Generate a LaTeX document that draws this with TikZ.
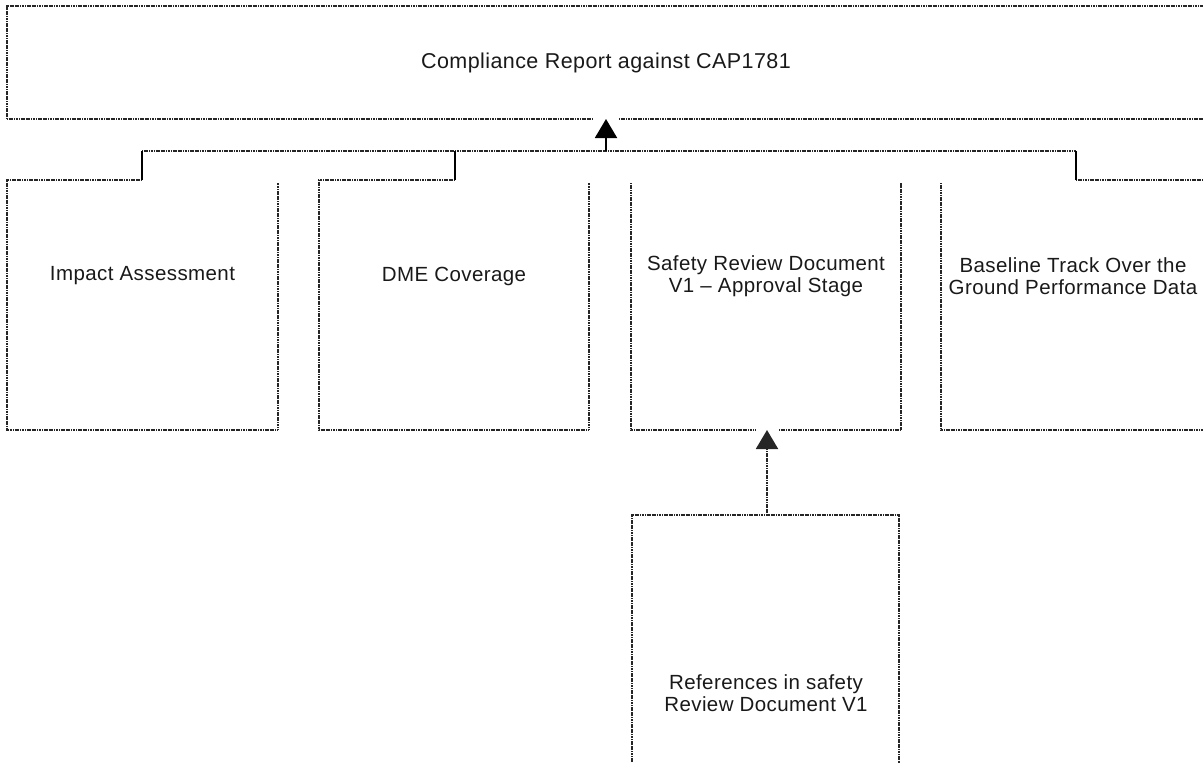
\documentclass[tikz,border=0pt]{standalone}
\usepackage{fontspec}
\setmainfont[LetterSpace=2]{Liberation Sans}
\usetikzlibrary{arrows.meta}
\begin{document}
\begin{tikzpicture}[x=1pt,y=-1pt,
  frame/.style={draw=none, inner sep=0pt, outer sep=0pt, minimum width=#1},
  outline/.style={draw=black!85, line width=2pt, dash pattern=on 1.2pt off 0.5pt},
  link/.style={draw=black, line width=2pt},
  tip/.style={-{Triangle[width=22pt,length=19pt]}},
  label/.style={font=\fontsize{20.5}{21.5}\selectfont, text=black!90, align=center, inner sep=0pt}]
\useasboundingbox (0,0) rectangle (1203,763);

% frames (outlines are drawn separately below)
\node[frame=1198pt, minimum height=113pt] (top) at (606,62.5) {};
\node[frame=271pt, minimum height=250pt] (imp) at (142.5,305) {};
\node[frame=270pt, minimum height=250pt] (dme) at (454,305) {};
\node[frame=270pt, minimum height=250pt] (srd) at (766,305) {};
\node[frame=264pt, minimum height=250pt] (base) at (1073,305) {};
\node[frame=267pt, minimum height=356pt] (refs) at (765.5,693) {};

% texts
\node[label, font=\fontsize{21.5}{22}\selectfont] (topT) at (606,63) {Compliance Report against CAP1781};
\node[label] (impT) at (142.5,276) {Impact Assessment};
\node[label] (dmeT) at (454,276) {DME Coverage};
\node[label] (srdT) at (766,276) {Safety Review Document\\V1 -- Approval Stage};
\node[label] (baseT) at (1073,276) {Baseline Track Over the\\Ground Performance Data};
\node[label] (refsT) at (766,693) {References in safety\\Review Document V1};

% feet of the connectors and the arrow entries
\coordinate (impF) at (142,180);
\coordinate (dmeF) at (455,180);
\coordinate (baseF) at (1076,180);
\coordinate (hub) at (606,151);
\coordinate (topIn) at (606,119);
\coordinate (srdIn) at (767,430);

% outlines
\draw[outline] (top.south west) -- (top.north west) -- (top.north east);
\draw[outline] (top.south west) -- (593,119);
\draw[outline] (619,119) -- (top.south east);
\draw[outline] (impF) -- (imp.north west) -- (imp.south west) -- (imp.south east) -- ([yshift=-3pt]imp.north east);
\draw[outline] (dmeF) -- (dme.north west) -- (dme.south west) -- (dme.south east) -- ([yshift=-3pt]dme.north east);
\draw[outline] ([yshift=-3pt]srd.north west) -- (srd.south west) -- (755,430);
\draw[outline] (779,430) -- (srd.south east) -- ([yshift=-3pt]srd.north east);
\draw[outline] (baseF) -- (base.north east);
\draw[outline] (baseF -| base.west) ++(0,3) -- (base.south west) -- (base.south east);
\draw[outline] (refs.south west) -- (refs.north west) -- (refs.north east) -- (refs.south east);

% bus
\draw[outline] (impF |- hub) -- (baseF |- hub);

% connectors
\draw[link] (impF) -- (impF |- hub);
\draw[link] (dmeF) -- (dmeF |- hub);
\draw[link] (baseF) -- (baseF |- hub);
\draw[link, tip] (hub) -- (topIn);
\draw[outline, tip] (refs.north -| srdIn) -- (srdIn);
\end{tikzpicture}
\end{document}
